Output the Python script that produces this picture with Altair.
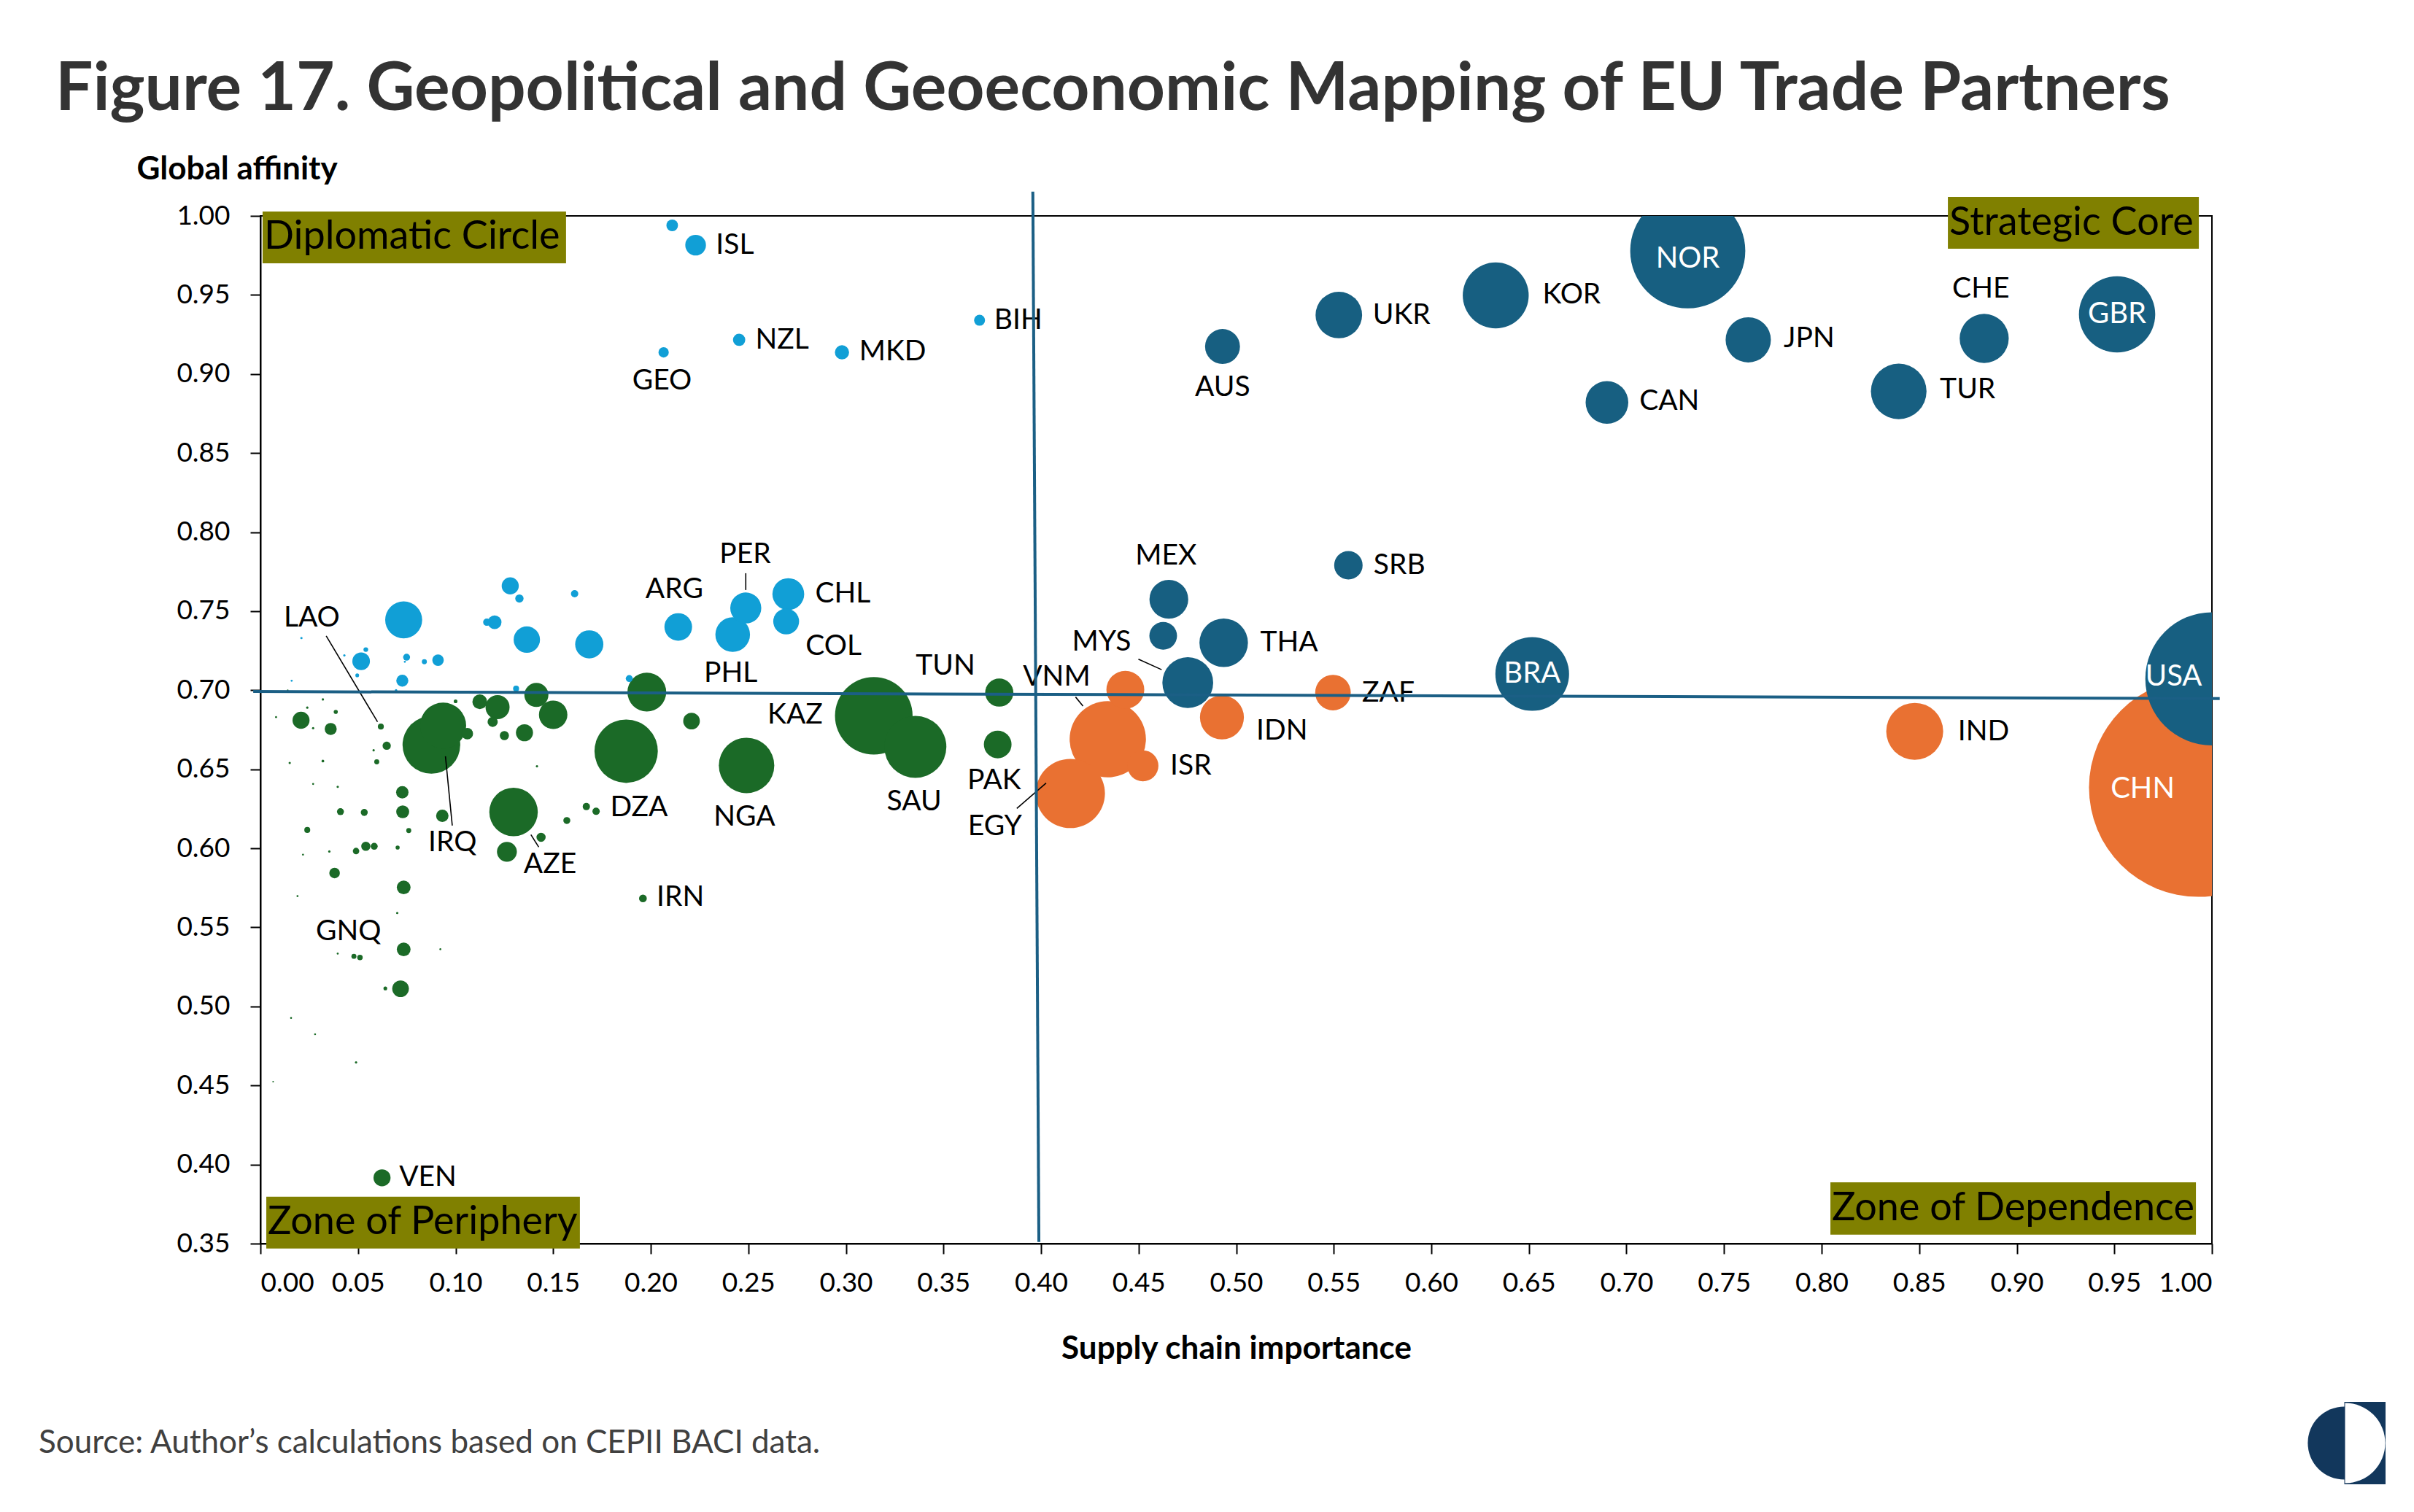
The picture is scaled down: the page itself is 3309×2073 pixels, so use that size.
import math
import altair as alt
import pandas as pd

FONT = "Lato"

# ---------------- bubble data (x = supply chain importance, y = global affinity, trade = bubble weight)
diplo_x = [0.211, 0.223, 0.2066, 0.2453, 0.298, 0.3685, 0.2141, 0.2487, 0.242, 0.2705, 0.2694,
           0.0734, 0.128, 0.1327, 0.161, 0.120, 0.116, 0.1365, 0.1685, 0.0516, 0.054, 0.0749,
           0.091, 0.084, 0.0727, 0.0496, 0.021, 0.043, 0.016, 0.074, 0.0695, 0.131, 0.189]
diplo_y = [0.994, 0.9815, 0.9137, 0.9216, 0.9137, 0.934, 0.740, 0.752, 0.7352, 0.7608, 0.7435,
           0.7445, 0.766, 0.758, 0.761, 0.743, 0.743, 0.732, 0.729, 0.7183, 0.7257, 0.7209,
           0.719, 0.718, 0.706, 0.7094, 0.733, 0.722, 0.706, 0.718, 0.700, 0.701, 0.7074]
diplo_t = [0.81, 2.56, 0.64, 0.9, 1.21, 0.72, 4.58, 5.76, 7.18, 6.05, 4.0,
           8.18, 1.74, 0.41, 0.32, 1.14, 0.32, 4.16, 4.75, 1.85, 0.13, 0.29,
           0.79, 0.15, 0.86, 0.084, 0.032, 0.032, 0.023, 0.023, 0.032, 0.21, 0.29]

core_x = [0.7314, 0.633, 0.5526, 0.493, 0.7624, 0.690, 0.8395, 0.8833, 0.9514, 0.5575,
          0.6517, 1.0, 0.4655, 0.4626, 0.4936, 0.4752]
core_y = [0.9779, 0.9497, 0.9373, 0.9174, 0.9216, 0.882, 0.889, 0.9225, 0.9377, 0.779,
          0.7103, 0.7072, 0.7575, 0.7344, 0.730, 0.7048]
core_t = [79.2, 26.0, 12.96, 7.29, 12.25, 10.9, 18.5, 14.4, 34.8, 4.84,
          32.5, 106.1, 9.0, 4.58, 14.06, 15.44]

dep_x = [0.993, 0.8477, 0.4432, 0.4342, 0.4522, 0.415, 0.4927, 0.5496]
dep_y = [0.6384, 0.674, 0.7003, 0.669, 0.6522, 0.6347, 0.6828, 0.6985]
dep_t = [285.6, 19.4, 8.58, 34.8, 5.76, 28.7, 11.56, 7.56]

peri_x = [0.1414, 0.150, 0.198, 0.1874, 0.0876, 0.0936, 0.106, 0.1124, 0.1215, 0.119,
          0.125, 0.1353, 0.0208, 0.036, 0.0617, 0.0647, 0.0386, 0.024, 0.032, 0.027,
          0.008, 0.014, 0.100, 0.058, 0.0596, 0.015, 0.032, 0.0727, 0.0729, 0.0932,
          0.041, 0.0532, 0.024, 0.076, 0.1297, 0.1438, 0.1263, 0.157, 0.167, 0.172,
          0.1417, 0.027, 0.0396, 0.054, 0.0583, 0.049, 0.0703, 0.0353, 0.0218, 0.038,
          0.0734, 0.196, 0.019, 0.0701, 0.0734, 0.0718, 0.064, 0.0479, 0.051, 0.0396,
          0.0922, 0.0157, 0.028, 0.049, 0.0065, 0.0623, 0.2209, 0.2491, 0.3143, 0.3356,
          0.3786, 0.3778]
peri_y = [0.697, 0.6845, 0.6988, 0.6614, 0.6654, 0.6776, 0.6725, 0.6927, 0.6893, 0.680,
          0.6713, 0.6731, 0.681, 0.6755, 0.677, 0.6649, 0.6863, 0.689, 0.6942, 0.676,
          0.683, 0.700, 0.693, 0.662, 0.6547, 0.654, 0.6552, 0.6354, 0.6231, 0.6206,
          0.6232, 0.6227, 0.6116, 0.6112, 0.623, 0.607, 0.5978, 0.6176, 0.6264, 0.6234,
          0.6519, 0.6407, 0.6389, 0.6013, 0.6013, 0.5983, 0.6005, 0.598, 0.596, 0.5844,
          0.5753, 0.5683, 0.5698, 0.5591, 0.5361, 0.5112, 0.5114, 0.5317, 0.531, 0.5334,
          0.5362, 0.4927, 0.4824, 0.4646, 0.4524, 0.3916, 0.6805, 0.6524, 0.6838, 0.6642,
          0.6985, 0.6657]
peri_t = [3.46, 4.84, 9.0, 24.0, 19.9, 12.7, 0.79, 1.3, 3.46, 0.62,
          0.5, 1.74, 1.74, 0.86, 0.21, 0.41, 0.1, 0.032, 0.032, 0.032,
          0.023, 0.014, 0.084, 0.032, 0.15, 0.032, 0.044, 0.92, 1.0, 0.92,
          0.29, 0.29, 0.21, 0.15, 14.06, 0.5, 2.37, 0.29, 0.32, 0.32,
          0.032, 0.023, 0.032, 0.5, 0.29, 0.25, 0.1, 0.032, 0.023, 0.67,
          1.14, 0.36, 0.023, 0.032, 1.14, 1.66, 0.084, 0.15, 0.18, 0.023,
          0.023, 0.023, 0.023, 0.032, 0.014, 1.74, 1.66, 18.4, 36.0, 23.0,
          4.75, 4.58]

groups = ["Diplomatic Circle", "Strategic Core", "Zone of Periphery", "Zone of Dependence"]
group_colors = ["#119fd6", "#175f81", "#1b6a27", "#e97132"]

# ---------------- country labels
right_lab = ["ISL", "NZL", "MKD", "BIH", "CHL", "THA", "IDN", "ISR", "ZAF", "SRB",
             "KOR", "UKR", "JPN", "CAN", "TUR", "IND", "VEN", "IRN"]
right_x = [0.2334, 0.2536, 0.3068, 0.376, 0.2843, 0.5123, 0.5103, 0.4662, 0.5645, 0.5704,
           0.657, 0.570, 0.7806, 0.7066, 0.8606, 0.8698, 0.0711, 0.203]
right_y = [0.9815, 0.9216, 0.9144, 0.934, 0.761, 0.7303, 0.6744, 0.6522, 0.6982, 0.779,
           0.9503, 0.9374, 0.9224, 0.883, 0.890, 0.674, 0.392, 0.5689]

center_lab = ["GEO", "PER", "ARG", "COL", "PHL", "TUN", "VNM", "MYS", "LAO", "MEX", "KAZ",
              "IRQ", "AZE", "DZA", "GNQ", "NGA", "SAU", "PAK", "EGY", "AUS", "CHE"]
center_x = [0.2058, 0.2484, 0.2121, 0.2937, 0.241, 0.351, 0.408, 0.431, 0.0263, 0.464, 0.274,
            0.0984, 0.1484, 0.194, 0.0451, 0.248, 0.335, 0.376, 0.3764, 0.493, 0.8816]
center_y = [0.8958, 0.786, 0.7638, 0.7279, 0.7108, 0.7154, 0.7085, 0.7306, 0.7459, 0.785, 0.6845,
            0.6038, 0.5901, 0.626, 0.5476, 0.620, 0.6295, 0.643, 0.6137, 0.8916, 0.954]

inside_lab = ["NOR", "GBR", "BRA", "USA", "CHN"]
inside_x = [0.7314, 0.9514, 0.6517, 0.9804, 0.9645]
inside_y = [0.9728, 0.9377, 0.7103, 0.7083, 0.6376]

# leader lines
lead_x1 = [0.0337, 0.2487, 0.0948, 0.1386, 0.3876, 0.4177, 0.4499]
lead_y1 = [0.7343, 0.774, 0.6582, 0.6086, 0.6252, 0.6957, 0.7196]
lead_x2 = [0.060, 0.2487, 0.0983, 0.1426, 0.4026, 0.4215, 0.4618]
lead_y2 = [0.680, 0.7634, 0.6144, 0.6008, 0.6413, 0.690, 0.7130]

# quadrant divider lines
ref_x1 = [-0.0037, 0.3958]
ref_y1 = [0.6992, 1.0153]
ref_x2 = [1.004, 0.3989]
ref_y2 = [0.6947, 0.351]

# quadrant label boxes
quad_x1 = [0.0011, 0.8647, 0.003, 0.8045]
quad_x2 = [0.1566, 0.9933, 0.1637, 0.9918]
quad_y1 = [1.0028, 1.012, 0.3796, 0.3888]
quad_y2 = [0.970, 0.9792, 0.3469, 0.3556]

x_ticks = [0.00, 0.05, 0.10, 0.15, 0.20, 0.25, 0.30, 0.35, 0.40, 0.45, 0.50,
           0.55, 0.60, 0.65, 0.70, 0.75, 0.80, 0.85, 0.90, 0.95, 1.00]
y_ticks = [0.35, 0.40, 0.45, 0.50, 0.55, 0.60, 0.65, 0.70, 0.75, 0.80, 0.85, 0.90, 0.95, 1.00]

TITLE = "Figure 17. Geopolitical and Geoeconomic Mapping of EU Trade Partners"
SOURCE = "Source: Author\u2019s calculations based on CEPII BACI data."

# ---------------- tables
frames = []
for g, xs_, ys_, ts_ in [(groups[0], diplo_x, diplo_y, diplo_t),
                         (groups[1], core_x, core_y, core_t),
                         (groups[2], peri_x, peri_y, peri_t),
                         (groups[3], dep_x, dep_y, dep_t)]:
    frames.append(pd.DataFrame({"x": xs_, "y": ys_, "trade": ts_, "group": g}))
bub = pd.concat(frames, ignore_index=True).sort_values("trade", ascending=False)

max_t = max(dep_t)
max_r = 169.0

xs = alt.Scale(domain=[0, 1], nice=False, zero=False)
ys = alt.Scale(domain=[0.35, 1.0], nice=False, zero=False)
xaxis = alt.Axis(values=x_ticks, format=".2f", title="Supply chain importance",
                 titleY=157, titleBaseline="alphabetic", labelPadding=22, grid=False)
yaxis = alt.Axis(values=y_ticks, format=".2f", title="Global affinity", titleAngle=0,
                 titleAlign="left", titleX=-170, titleY=-51, titleBaseline="alphabetic",
                 labelPadding=28, grid=False)


def X(f):
    return alt.X(f, type="quantitative", scale=xs, axis=xaxis)


def Y(f):
    return alt.Y(f, type="quantitative", scale=ys, axis=yaxis)


bubbles = alt.Chart(bub).mark_circle(opacity=1, clip=True).encode(
    x=X("x"), y=Y("y"),
    size=alt.Size("trade:Q", scale=alt.Scale(domain=[0, max_t], range=[0, math.pi * max_r ** 2]),
                  legend=None),
    color=alt.Color("group:N", scale=alt.Scale(domain=groups, range=group_colors), legend=None),
    order=alt.Order("trade:Q", sort="descending"),
)

lab_r = alt.Chart(pd.DataFrame({"x": right_x, "y": right_y, "label": right_lab})).mark_text(
    align="left", baseline="middle", font=FONT, fontSize=39, color="black"
).encode(x=X("x"), y=Y("y"), text="label:N")

lab_c = alt.Chart(pd.DataFrame({"x": center_x, "y": center_y, "label": center_lab})).mark_text(
    align="center", baseline="middle", font=FONT, fontSize=39, color="black"
).encode(x=X("x"), y=Y("y"), text="label:N")

lab_w = alt.Chart(pd.DataFrame({"x": inside_x, "y": inside_y, "label": inside_lab})).mark_text(
    align="center", baseline="middle", font=FONT, fontSize=40, color="white"
).encode(x=X("x"), y=Y("y"), text="label:N")

leaders = alt.Chart(pd.DataFrame({"x": lead_x1, "y": lead_y1, "xe": lead_x2, "ye": lead_y2})).mark_rule(
    color="black", strokeWidth=1.6
).encode(x=X("x"), y=Y("y"), x2="xe:Q", y2="ye:Q")

refs = alt.Chart(pd.DataFrame({"x": ref_x1, "y": ref_y1, "xe": ref_x2, "ye": ref_y2})).mark_rule(
    color="#1b5f85", strokeWidth=4
).encode(x=X("x"), y=Y("y"), x2="xe:Q", y2="ye:Q")

quad_df = pd.DataFrame({"x": quad_x1, "xe": quad_x2, "y": quad_y1, "ye": quad_y2, "name": groups})
quad_df["ym"] = (quad_df["y"] + quad_df["ye"]) / 2
boxes = alt.Chart(quad_df).mark_rect(color="#808000").encode(
    x=X("x"), x2="xe:Q", y=Y("y"), y2="ye:Q")
box_text = alt.Chart(quad_df).mark_text(
    align="left", baseline="middle", dx=2, font=FONT, fontSize=54, color="black"
).encode(x=X("x"), y=Y("ym"), text="name:N")

one = pd.DataFrame({"t": [SOURCE]})
source = alt.Chart(one).mark_text(
    align="left", baseline="middle", font=FONT, fontSize=44, color="#404040"
).encode(x=alt.value(-304), y=alt.value(1683), text="t:N")

logo_c = alt.Chart(one).mark_circle(color="#12375c", opacity=1, size=math.pi * 56.5 ** 2).encode(
    x=alt.value(2856.5), y=alt.value(1682.5))
logo_r = alt.Chart(one).mark_rect(color="#12375c").encode(
    x=alt.value(2856.5), x2=alt.value(2913), y=alt.value(1626), y2=alt.value(1739))
logo_a = alt.Chart(one).mark_arc(color="white", radius=55, theta=0, theta2=math.pi).encode(
    x=alt.value(2857.5), y=alt.value(1682.5))

chart = alt.layer(
    bubbles, lab_r, lab_c, lab_w, leaders, refs, boxes, box_text, source, logo_c, logo_r, logo_a
).properties(
    width=2675, height=1409,
    autosize=alt.AutoSizeParams(type="none"),
    padding={"left": 349, "top": 288, "right": 269, "bottom": 360},
    title=alt.TitleParams(text=TITLE, anchor="start", frame="group", dx=-281, offset=60, dy=92,
                          font=FONT, fontSize=91, fontWeight="bold", color="#333333",
                          baseline="alphabetic"),
).configure_view(
    stroke="black", strokeWidth=2
).configure_axis(
    domainColor="black", domainWidth=2, tickColor="black", tickWidth=2, tickSize=14,
    labelFont=FONT, labelFontSize=37, labelColor="black",
    titleFont=FONT, titleFontSize=44, titleFontWeight="bold", titleColor="black",
)

chart.save("out.html", embed_options={"renderer": "svg", "actions": False})
